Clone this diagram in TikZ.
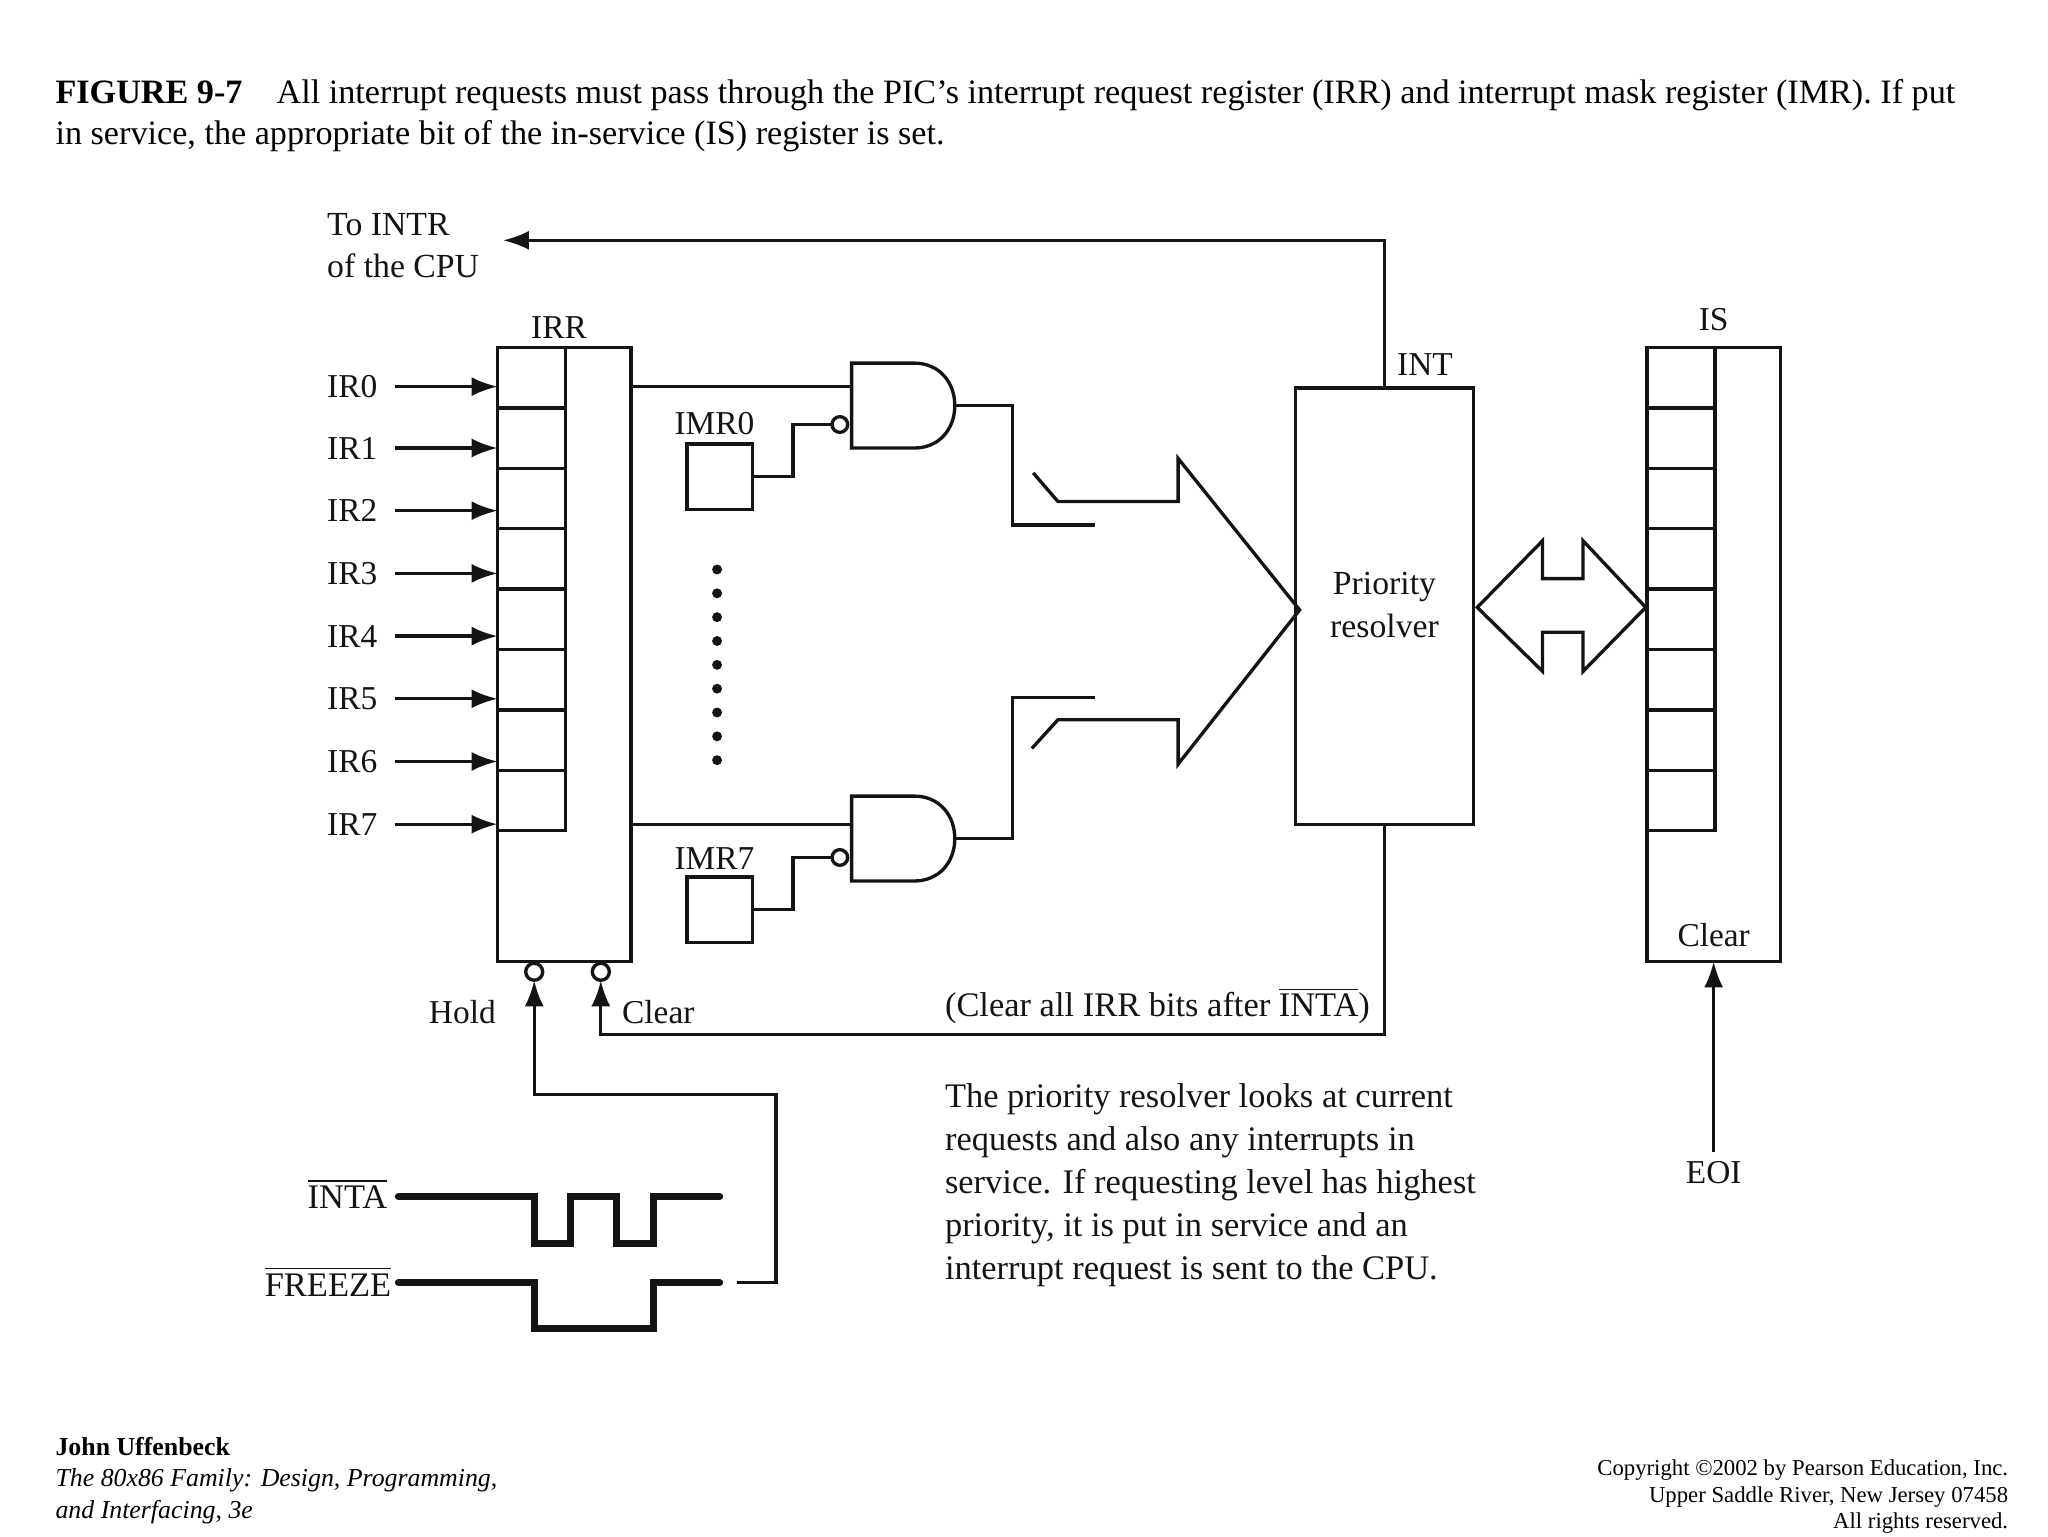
\documentclass[tikz,border=0pt]{standalone}
\usepackage{fontspec}
\setmainfont{Liberation Serif}
\usepackage{tikz}
\usetikzlibrary{arrows.meta,positioning,calc}
\definecolor{picink}{RGB}{20,20,20}
\def\u{0.1306mm}
\tikzset{
  wire/.style={draw=picink,line width=0.95pt},
  sig/.style={wire,-{Latex[length=2.6mm,width=1.9mm]}},
  wave/.style={draw=picink,line width=2pt,line cap=round},
  regbox/.style={draw=picink,line width=0.95pt,minimum width=102*\u,minimum height=470*\u,inner sep=0pt,outer sep=0pt},
  cellbox/.style={draw=picink,line width=0.95pt,minimum width=52*\u,minimum height=46.25*\u,inner sep=0pt,outer sep=0pt,anchor=north west},
  maskbox/.style={draw=picink,line width=0.95pt,minimum width=50*\u,minimum height=50*\u,inner sep=0pt,outer sep=0pt},
  bubble/.style={circle,draw=picink,line width=0.95pt,minimum size=13*\u,inner sep=0pt,outer sep=0pt},
  lab/.style={font=\fontsize{9.5}{11.4}\selectfont,text=picink,inner sep=0pt,align=left},
  widelab/.style={lab,font=\fontsize{9.8}{12.26}\selectfont},
  irlab/.style={lab,anchor=west,text width=51*\u},
  captext/.style={font=\fontsize{9.72}{11.9}\selectfont,text=black,inner sep=0pt,align=left,anchor=north west},
}
\begin{document}
\begin{tikzpicture}[x=\u,y=-\u]
\useasboundingbox (0,0) rectangle (1568,1176);
% --- caption and footer ---
\node[captext] (caption) at (42,60)
 {\textbf{FIGURE 9-7}\hspace{1em}All interrupt requests must pass through the PIC’s interrupt request register (IRR) and interrupt mask register (IMR). If put\\
  in service, the appropriate bit of the in-service (IS) register is set.};
\node[inner sep=0pt,align=left,anchor=north west,font=\fontsize{7.35}{8.9}\selectfont] (book) at (42,1100)
 {\textbf{John Uffenbeck}\\ \textit{The 80x86 Family:  Design, Programming,}\\ \textit{and Interfacing, 3e}};
\node[inner sep=0pt,align=right,anchor=north east,font=\fontsize{6.47}{7.6}\selectfont] (copy) at (1538,1117)
 {Copyright ©2002 by Pearson Education, Inc.\\ Upper Saddle River, New Jersey 07458\\ All rights reserved.};
% --- registers ---
\node[regbox] (irrbox) at (432,501) {};
\node[regbox] (isbox) at (1312,501) {};
\foreach \i in {0,...,7} {
  \node[cellbox] (irr\i) at (381,{266+46.25*\i}) {};
  \node[cellbox] (is\i) at (1261,{266+46.25*\i}) {};
}
\node[lab] (irrlab) at (428,251) {IRR};
\node[lab] (islab) at (1312,245) {IS};
\node[lab] (isclear) at (1312,716) {Clear};
% request inputs
\foreach \i/\y in {0/296,1/343,2/391,3/439,4/487,5/535,6/583,7/631} {
  \node[irlab] (ir\i) at (250,\y) {IR\i};
  \draw[sig] (ir\i.east) -- (ir\i.east -| irrbox.west);
}
% --- mask gates ---
\foreach \g/\y in {0/310.5,7/642} {
  \coordinate (gate\g) at (652,\y);
  \coordinate (gout\g) at (731,\y);
  \draw[wire] (gate\g) ++(0,-32.5) -- ++(48,0) .. controls +(19,0) and (731,\y-18) .. (gout\g)
    .. controls (731,\y+18) and (719,\y+32.5) .. (700,\y+32.5) -- (652,\y+32.5) -- cycle;
  \node[bubble,minimum size=12*\u] (bub\g) at (643,\y+14.5) {};
}
\node[maskbox] (imr0) at (551,365) {};
\node[maskbox] (imr7) at (551,696.5) {};
\node[lab] (imr0lab) at (547,324) {IMR0};
\node[lab] (imr7lab) at (547,657) {IMR7};
\draw[wire] (irrbox.east |- ir0.east) -- (ir0.east -| gate0);
\draw[wire] (irrbox.east |- ir7.east) -- (ir7.east -| gate7);
\draw[wire] (imr0.east) -- ++(31,0) |- (bub0.west);
\draw[wire] (imr7.east) -- ++(31,0) |- (bub7.west);
\foreach \n in {0,...,8}
  \fill[picink] (549,{436+18.25*\n}) circle[radius=3.8];
% gate outputs
\coordinate (sw0) at (838,402);
\coordinate (sw7) at (838,534);
\draw[wire] (gout0) -| (775,402) -- (sw0);
\draw[wire] (gout7) -| (775,534) -- (sw7);
% --- request bus into resolver ---
\node[draw=picink,line width=0.95pt,minimum width=136*\u,minimum height=334*\u,inner sep=0pt,outer sep=0pt] (prio) at (1060,464) {};
\node[lab,align=center,font=\fontsize{9.6}{12.2}\selectfont] (priolab) at (1060,463) {Priority\\resolver};
\node[lab] (intlab) at (1091,279) {INT};
\draw[wire,line join=miter] (791,362) -- (810,384) -- (902,384) -- (902,351) -- (995,467)
  -- (902,585) -- (902,551) -- (810,551) -- (790,573);
\draw[wire,line join=miter] (1131,465) -- (1181,414) -- (1181,443) -- (1212,443) -- (1212,414) -- (1260,465)
  -- (1212,514) -- (1212,484) -- (1181,484) -- (1181,514) -- cycle;
% --- to cpu ---
\node[lab,anchor=west,font=\fontsize{9.6}{12.2}\selectfont] (intr) at (250,188) {To INTR\\of the CPU};
\coordinate (intrend) at (385,184);
\draw[sig] (prio.north) |- (intrend);
% --- hold and clear ---
\node[bubble] (holdb) at (409,744) {};
\node[bubble] (clearb) at (460,744) {};
\node[lab] (holdlab) at (354,775) {Hold};
\node[lab] (clearlab) at (504,775) {Clear};
\node[widelab,anchor=west] (afterlab) at (723,770) {(Clear all IRR bits after $\overline{\mbox{INTA}}$)};
\draw[sig] (prio.south) |- (460,792) -- (clearb.south);
% --- strobes ---
\node[widelab,anchor=east] (intalab) at (297,914) {$\overline{\mbox{INTA}}$};
\node[widelab,anchor=east] (frzlab) at (300,981) {$\overline{\mbox{FREEZE}}$};
\coordinate (frzout) at (564,982);
\draw[wave] (305,916) -- (409,916) -- (409,952) -- (437,952) -- (437,916) -- (472,916) -- (472,952) -- (500,952) -- (500,916) -- (551,916);
\draw[wave] (305,982) -- (409,982) -- (409,1017) -- (500,1017) -- (500,982) -- (551,982);
\draw[sig] (frzout) -- (594,982) -- (594,838) -| (holdb.south);
% --- end of interrupt ---
\node[lab] (eoi) at (1312,898) {EOI};
\draw[sig] (eoi.north) ++(0,-7) -- (isbox.south);
% --- note ---
\node[widelab,anchor=north west] (note) at (723,829)
 {The priority resolver looks at current\\ requests and also any interrupts in\\ service. If requesting level has highest\\ priority, it is put in service and an\\ interrupt request is sent to the CPU.};
\end{tikzpicture}
\end{document}
